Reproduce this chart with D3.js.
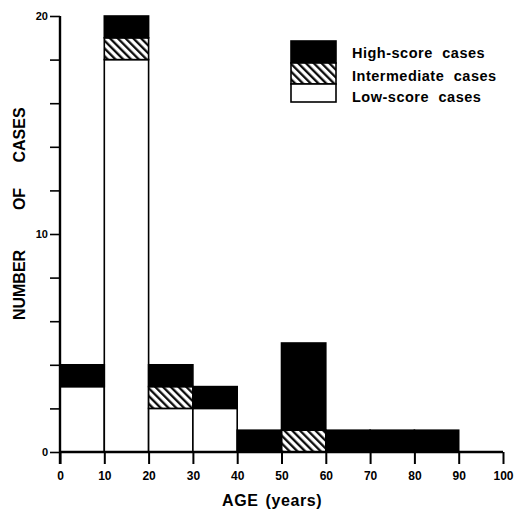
<!DOCTYPE html>
<html>
<head>
<meta charset="utf-8">
<script src="https://cdn.jsdelivr.net/npm/d3@7"></script>
<style>
  body { margin: 0; background: #fff; }
  text { font-family: "Liberation Sans", Arial, sans-serif; fill: #000; }
</style>
</head>
<body>
<div id="chart"></div>
<script>
// age bins (years), 10-year wide
const binStart = [0, 10, 20, 30, 40, 50, 60, 70, 80];
const lowScore = [3, 18, 2, 2, 0, 0, 0, 0, 0];
const intermediate = [0, 1, 1, 0, 0, 1, 0, 0, 0];
const highScore = [1, 1, 1, 1, 1, 4, 1, 1, 1];

const xTicks = [0, 10, 20, 30, 40, 50, 60, 70, 80, 90, 100];
const yTicks = [0, 2, 4, 6, 8, 10, 12, 14, 16, 18, 20];
const yLabels = [0, 10, 20];
const legendNames = ["High-score cases", "Intermediate cases", "Low-score cases"];

const width = 514, height = 510;

const rows = binStart.map((s, i) => ({
    start: s, end: s + 10,
    low: lowScore[i], mid: intermediate[i], high: highScore[i]
}));

const svg = d3.select("#chart").append("svg")
    .attr("width", width)
    .attr("height", height);

// hatch pattern for intermediate cases
const defs = svg.append("defs");
defs.append("pattern")
    .attr("id", "hatch")
    .attr("patternUnits", "userSpaceOnUse")
    .attr("width", 5.5)
    .attr("height", 5.5)
    .attr("patternTransform", "rotate(-45)")
    .call(p => {
        p.append("rect").attr("width", 5.5).attr("height", 5.5).attr("fill", "#fff");
        p.append("line").attr("x1", 1.2).attr("x2", 1.2).attr("y1", 0).attr("y2", 5.5)
            .attr("stroke", "#000").attr("stroke-width", 2.2);
    });

const xScale = d3.scaleLinear().domain([0, 100]).range([60, 503]);
const yScale = d3.scaleLinear().domain([0, 20]).range([452, 16]);

const fills = { low: "#fff", mid: "url(#hatch)", high: "#000" };

const stack = d3.stack().keys(["low", "mid", "high"]);
const layers = stack(rows);

svg.append("g").selectAll("g")
    .data(layers)
    .join("g")
    .attr("fill", d => fills[d.key])
    .selectAll("rect")
    .data(d => d.filter(s => s[1] > s[0]))
    .join("rect")
    .attr("x", d => xScale(d.data.start))
    .attr("width", d => xScale(d.data.end) - xScale(d.data.start))
    .attr("y", d => yScale(d[1]))
    .attr("height", d => yScale(d[0]) - yScale(d[1]))
    .attr("stroke", "#000")
    .attr("stroke-width", 1.6);

// x axis
const xAxis = svg.append("g")
    .attr("transform", `translate(0,${yScale(0)})`)
    .call(d3.axisBottom(xScale).tickValues(xTicks).tickSize(12).tickPadding(7).tickFormat(d3.format("d")));
xAxis.select(".domain").attr("stroke-width", 2.4).attr("d", `M${xScale(0)},0H${xScale(100)}`);
xAxis.selectAll(".tick line").attr("stroke-width", 2);
xAxis.selectAll(".tick text")
    .style("font-size", "12px").style("font-weight", "bold")
    .style("font-family", "'Liberation Sans', Arial, sans-serif");

// y axis
const yAxis = svg.append("g")
    .attr("transform", `translate(${xScale(0)},0)`)
    .call(d3.axisLeft(yScale).tickValues(yTicks).tickSize(10).tickPadding(2)
        .tickFormat(d => yLabels.includes(d) ? d : ""));
yAxis.select(".domain").attr("stroke-width", 2.4).attr("d", `M0,${yScale(0) + 12}V${yScale(20)}`);
yAxis.selectAll(".tick line").attr("stroke-width", 1.6);
yAxis.selectAll(".tick text")
    .style("font-size", "11px").style("font-weight", "bold")
    .style("font-family", "'Liberation Sans', Arial, sans-serif");

// axis titles
svg.append("text")
    .attr("x", 222)
    .attr("y", 506)
    .style("font-size", "16px")
    .style("font-weight", "bold")
    .style("letter-spacing", "0.6px")
    .style("word-spacing", "2px")
    .text("AGE (years)");

// y title words placed separately (uneven gaps in the original)
const yTitleWords = ["NUMBER", "OF", "CASES"];
const yTitleCenters = [285, 199, 135];
svg.append("g").selectAll("text")
    .data(yTitleWords)
    .join("text")
    .attr("transform", (d, i) => `translate(25,${yTitleCenters[i]}) rotate(-90)`)
    .attr("text-anchor", "middle")
    .style("font-size", "16px")
    .style("font-weight", "bold")
    .text(d => d);

// legend
const legX = 291, legY = 41, legW = 45;
const legH = [22, 21, 18];
const legFill = ["#000", "url(#hatch)", "#fff"];
let yy = legY;
legH.forEach((h, i) => {
    svg.append("rect")
        .attr("x", legX).attr("y", yy)
        .attr("width", legW).attr("height", h)
        .attr("fill", legFill[i])
        .attr("stroke", "#000").attr("stroke-width", 1.6);
    yy += h;
});

const legTextY = [58, 81, 102];
svg.append("g").selectAll("text")
    .data(legendNames)
    .join("text")
    .attr("x", 352)
    .attr("y", (d, i) => legTextY[i])
    .style("font-size", "14.5px")
    .style("font-weight", "bold")
    .style("letter-spacing", "0.5px")
    .style("word-spacing", "5px")
    .text(d => d);
</script>
</body>
</html>
